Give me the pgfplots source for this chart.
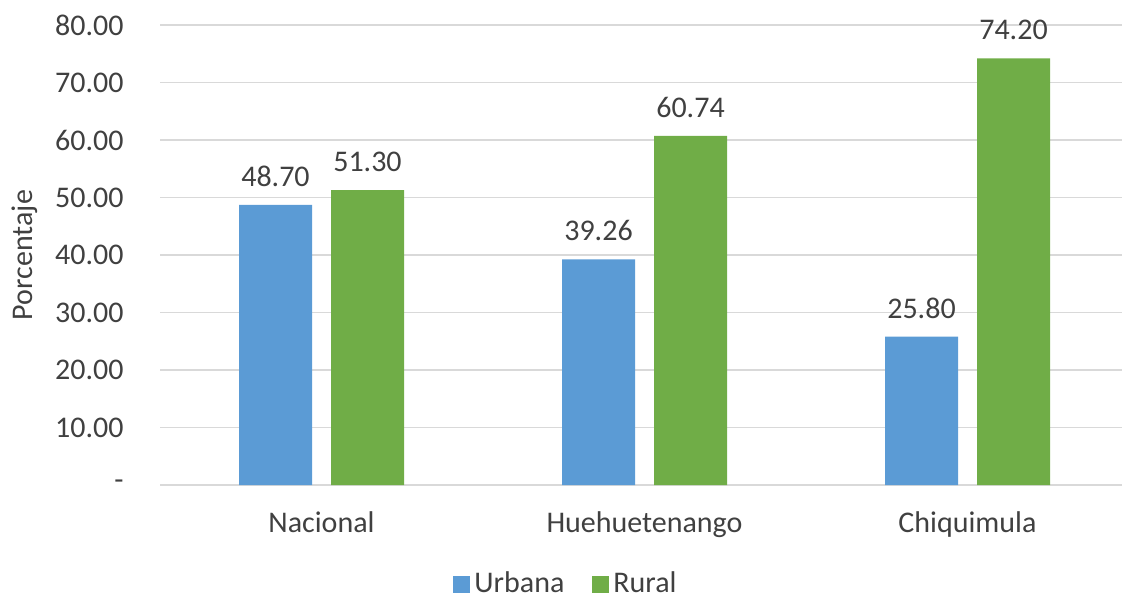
\documentclass[border=0pt]{standalone}
\usepackage{pgfplots}
\pgfplotsset{compat=1.18}
\usepackage{fontspec}
\setmainfont{Carlito}
\definecolor{urbana}{HTML}{5B9BD5}
\definecolor{rural}{HTML}{70AD47}
\definecolor{txt}{HTML}{404040}
\definecolor{grd}{HTML}{D9D9D9}
\begin{document}
\fontsize{15}{18}\selectfont
\begin{tikzpicture}
\useasboundingbox (0,0) rectangle (561pt,299.5pt);
\begin{axis}[
    at={(80pt,57pt)}, anchor=south west,
    scale only axis,
    width=484.5pt, height=230pt,
    xmin=-0.5, xmax=2.5,
    ymin=0, ymax=80,
    ybar=9.5pt, bar width=36.5pt,
    axis line style={draw=none},
    major tick length=0pt,
    xtick={0,1,2},
    xticklabels={Nacional,Huehuetenango,Chiquimula},
    ytick={0,10,...,80},
    yticklabels={-,10.00,20.00,30.00,40.00,50.00,60.00,70.00,80.00},
    ymajorgrids,
    grid style={grd, line width=0.75pt},
    tick label style={txt, font=\fontsize{15}{18}\selectfont},
    xticklabel style={yshift=-8pt},
    yticklabel style={xshift=-13pt},
    ylabel={Porcentaje},
    ylabel style={txt, font=\fontsize{15}{18}\selectfont, at={(axis description cs:-0.1393,0.5)}, anchor=center},
    /pgf/number format/assume math mode=true,
    nodes near coords,
    nodes near coords style={txt, font=\fontsize{15}{18}\selectfont, yshift=4pt,
        /pgf/number format/.cd, fixed, fixed zerofill, precision=2},
    legend columns=2,
    legend style={at={(0.42,-0.217)}, anchor=center, draw=none, fill=none,
        font=\fontsize{15}{18}\selectfont, text=txt,
        /tikz/every even column/.append style={column sep=12pt}},
    legend image code/.code={\fill[#1] (0pt,-4.25pt) rectangle (8.5pt,4.25pt);},
]
\addplot[fill=urbana, draw=none] coordinates {(0,48.70) (1,39.26) (2,25.80)};
\addplot[fill=rural, draw=none] coordinates {(0,51.30) (1,60.74) (2,74.20)};
\legend{Urbana, Rural}
\end{axis}
\end{tikzpicture}
\end{document}
